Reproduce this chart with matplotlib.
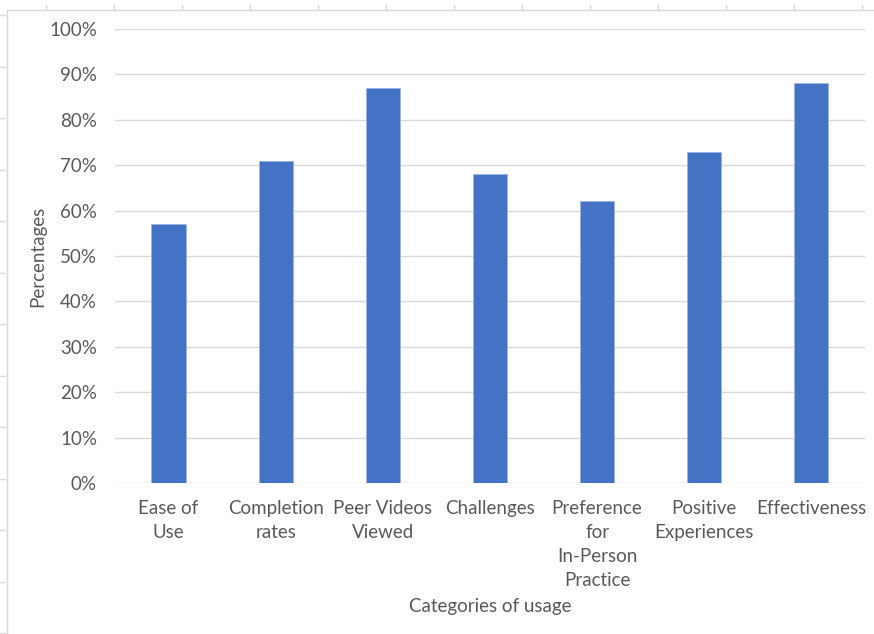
import matplotlib.pyplot as plt
from matplotlib.ticker import PercentFormatter
from matplotlib.lines import Line2D
from matplotlib.patches import Rectangle

# Data
categories = ["Ease of\nUse", "Completion\nrates", "Peer Videos\nViewed", "Challenges",
              "Preference\nfor\nIn-Person\nPractice", "Positive\nExperiences", "Effectiveness"]
values = [57, 71, 87, 68, 62, 73, 88]
yticks = [0, 10, 20, 30, 40, 50, 60, 70, 80, 90, 100]

plt.rcParams['font.family'] = ['Lato', 'DejaVu Sans']
text_color = '#595959'
fs = 13.5

fig = plt.figure(figsize=(8.74, 6.34), dpi=100)
ax = fig.add_axes([0.1316, 0.2382, 0.858, 0.7161])

x = range(len(categories))
ax.bar(x, values, width=0.32, color='#4472C4', edgecolor='#9DB5E3', linewidth=0.6, zorder=3)

ax.set_xlim(-0.5, len(categories) - 0.5)
ax.set_ylim(0, 100)
ax.set_yticks(yticks)
ax.yaxis.set_major_formatter(PercentFormatter(decimals=0))
ax.set_xticks(list(x))
ax.set_xticklabels(categories, fontsize=fs, color=text_color, linespacing=1.52)
ax.tick_params(axis='y', labelsize=fs, colors=text_color, length=0, pad=13)
ax.tick_params(axis='x', length=0, pad=12)
ax.grid(axis='y', color='#D9D9D9', linewidth=1, zorder=0)
for s in ax.spines.values():
    s.set_visible(False)

ax.set_ylabel("Percentages", fontsize=fs, color=text_color)
ax.yaxis.set_label_coords(-0.092, 0.5)
fig.text(0.5606, 0.0426, "Categories of usage", ha='center', va='center',
         fontsize=fs, color=text_color)

# chart border and spreadsheet cell stubs
fig.add_artist(Rectangle((7 / 874, -0.01), 1.0, 1 - 10 / 634 + 0.01, transform=fig.transFigure,
                         fill=False, edgecolor='#D9D9D9', linewidth=1))
for px in [46, 114, 182, 250, 318, 386, 454, 522, 590, 658, 726, 794, 862]:
    fig.add_artist(Line2D([px / 874, px / 874], [1 - 10 / 634, 1 - 5 / 634],
                          transform=fig.transFigure, color='#D9D9D9', linewidth=1))
for py in [15, 67, 118, 170, 221, 273, 324, 376, 427, 479, 530, 582, 633]:
    fig.add_artist(Line2D([0, 5 / 874], [1 - py / 634, 1 - py / 634],
                          transform=fig.transFigure, color='#D9D9D9', linewidth=1))

fig.savefig("out.png", dpi=100)
